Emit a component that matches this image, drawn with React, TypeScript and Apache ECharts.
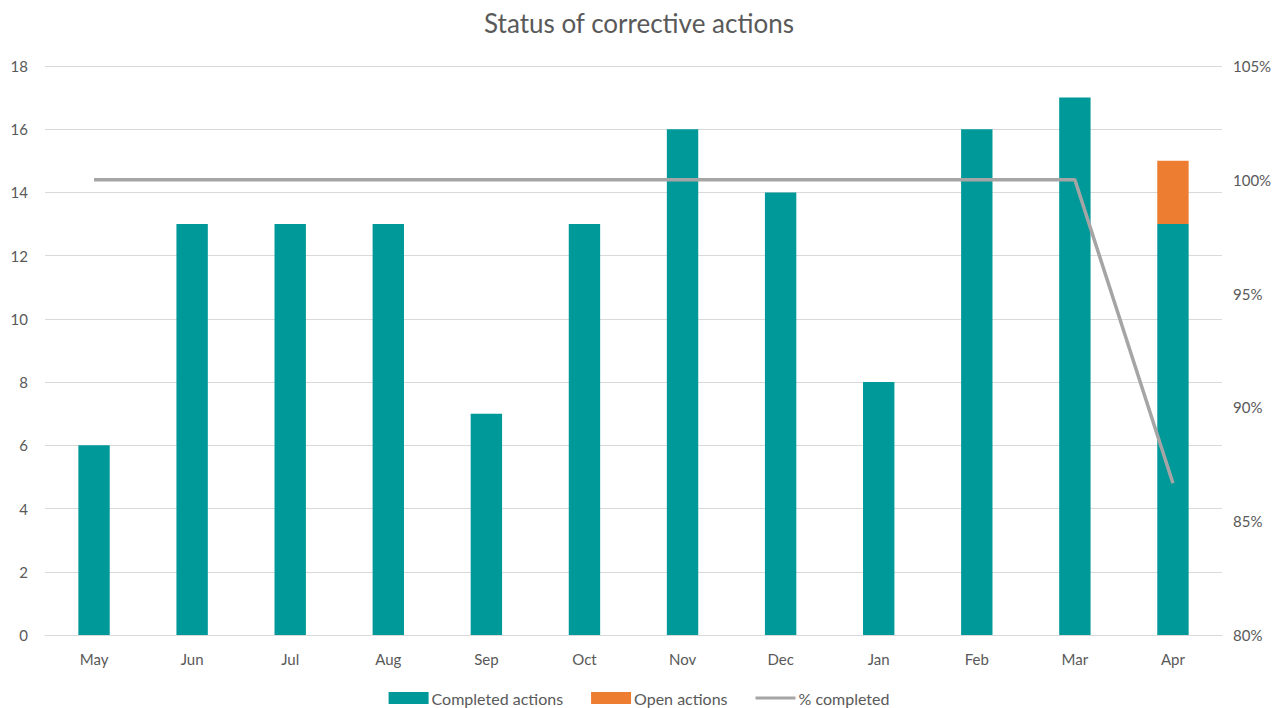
import React, { useEffect, useRef } from "react";
import * as echarts from "echarts";

const months = ["May", "Jun", "Jul", "Aug", "Sep", "Oct", "Nov", "Dec", "Jan", "Feb", "Mar", "Apr"];
const completedActions = [6, 13, 13, 13, 7, 13, 16, 14, 8, 16, 17, 13];
const openActions = [0, 0, 0, 0, 0, 0, 0, 0, 0, 0, 0, 2];
const pctCompleted = [1, 1, 1, 1, 1, 1, 1, 1, 1, 1, 1, 13 / 15];

const FONT = "Lato, 'Liberation Sans', sans-serif";
const LABEL = "#595959";

export default function App() {
  const ref = useRef<HTMLDivElement>(null);

  useEffect(() => {
    document.body.style.margin = "0";
    if (!ref.current) return;
    const chart = echarts.init(ref.current, undefined, { renderer: "svg" });
    chart.setOption({
      animation: false,
      textStyle: { fontFamily: FONT },
      title: {
        text: "Status of corrective actions",
        left: "center",
        top: 5,
        textStyle: { fontFamily: FONT, fontSize: 26, fontWeight: "normal", color: LABEL },
      },
      legend: {
        top: 690,
        left: "center",
        padding: 0,
        itemWidth: 40,
        itemHeight: 12,
        itemGap: 28,
        textStyle: {
          fontFamily: FONT,
          fontSize: 16,
          lineHeight: 16,
          color: LABEL,
          padding: [0, 0, 0, -2],
        },
        data: [
          { name: "Completed actions", icon: "rect" },
          { name: "Open actions", icon: "rect" },
          { name: "% completed", icon: "path://M0 0H40V3H0Z" },
        ],
      },
      grid: { left: 45, right: 56, top: 66, bottom: 73, containLabel: false },
      xAxis: {
        type: "category",
        data: months,
        axisLine: { lineStyle: { color: "#d9d9d9", width: 1 } },
        axisTick: { show: false },
        axisLabel: { color: LABEL, fontSize: 15, fontFamily: FONT, margin: 16 },
      },
      yAxis: [
        {
          type: "value",
          min: 0,
          max: 18,
          interval: 2,
          axisLine: { show: false },
          axisTick: { show: false },
          splitLine: { lineStyle: { color: "#d9d9d9", width: 1 } },
          axisLabel: { color: LABEL, fontSize: 15, fontFamily: FONT, margin: 17 },
        },
        {
          type: "value",
          min: 0.8,
          max: 1.05,
          interval: 0.05,
          axisLine: { show: false },
          axisTick: { show: false },
          splitLine: { show: false },
          axisLabel: {
            color: LABEL,
            fontSize: 15,
            fontFamily: FONT,
            margin: 11,
            formatter: (v: number) => Math.round(v * 100) + "%",
          },
        },
      ],
      series: [
        {
          name: "Completed actions",
          type: "bar",
          stack: "actions",
          data: completedActions,
          barWidth: "32%",
          itemStyle: { color: "#009999" },
        },
        {
          name: "Open actions",
          type: "bar",
          stack: "actions",
          data: openActions,
          barWidth: "32%",
          itemStyle: { color: "#ED7D31" },
        },
        {
          name: "% completed",
          type: "line",
          yAxisIndex: 1,
          data: pctCompleted,
          symbol: "none",
          lineStyle: { color: "#A5A5A5", width: 3.5 },
          itemStyle: { color: "#A5A5A5" },
        },
      ],
    });
    return () => chart.dispose();
  }, []);

  return <div ref={ref} style={{ width: 1278, height: 708 }} />;
}
